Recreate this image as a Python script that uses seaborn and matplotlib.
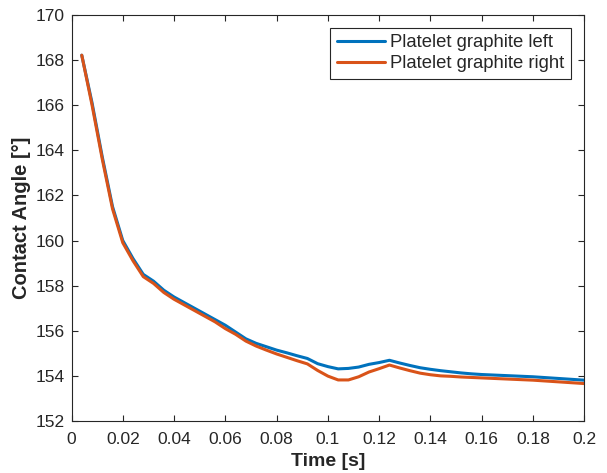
import numpy as np
import pandas as pd
import matplotlib
matplotlib.use("Agg")
import matplotlib.pyplot as plt
import seaborn as sns

time_s = [0.004, 0.008, 0.012, 0.016, 0.020, 0.024, 0.028, 0.032, 0.036, 0.040,
          0.044, 0.048, 0.052, 0.056, 0.060, 0.064, 0.068, 0.072, 0.076, 0.080,
          0.084, 0.088, 0.092, 0.096, 0.100, 0.104, 0.108, 0.112, 0.116, 0.120,
          0.124, 0.128, 0.132, 0.136, 0.140, 0.144, 0.148, 0.152, 0.156, 0.160,
          0.164, 0.168, 0.172, 0.176, 0.180, 0.184, 0.188, 0.192, 0.196, 0.200]

left_angle = [168.2, 166.1, 163.7, 161.5, 160.0, 159.2, 158.5, 158.2, 157.8, 157.5,
              157.25, 157.0, 156.75, 156.5, 156.25, 155.95, 155.65, 155.45, 155.3, 155.15,
              155.03, 154.9, 154.78, 154.55, 154.42, 154.32, 154.34, 154.4, 154.52, 154.6,
              154.7, 154.58, 154.47, 154.37, 154.3, 154.24, 154.19, 154.14, 154.1, 154.07,
              154.05, 154.03, 154.01, 153.99, 153.97, 153.94, 153.91, 153.88, 153.85, 153.82]

right_angle = [168.2, 166.0, 163.6, 161.4, 159.9, 159.1, 158.4, 158.1, 157.7, 157.4,
               157.15, 156.9, 156.65, 156.4, 156.1, 155.85, 155.55, 155.33, 155.15, 154.98,
               154.83, 154.68, 154.54, 154.25, 154.0, 153.83, 153.83, 153.97, 154.18, 154.33,
               154.49, 154.36, 154.24, 154.13, 154.06, 154.01, 153.99, 153.96, 153.94, 153.92,
               153.9, 153.88, 153.86, 153.84, 153.82, 153.79, 153.76, 153.73, 153.70, 153.67]

series_names = ["Platelet graphite left", "Platelet graphite right"]
series_colors = ["#0072BD", "#D95319"]
x_ticks = [0, 0.02, 0.04, 0.06, 0.08, 0.1, 0.12, 0.14, 0.16, 0.18, 0.2]
x_tick_labels = ["0", "0.02", "0.04", "0.06", "0.08", "0.1", "0.12", "0.14", "0.16", "0.18", "0.2"]
y_ticks = [152, 154, 156, 158, 160, 162, 164, 166, 168, 170]

df = pd.concat([
    pd.DataFrame({"Time": time_s, "Angle": left_angle, "Series": series_names[0]}),
    pd.DataFrame({"Time": time_s, "Angle": right_angle, "Series": series_names[1]}),
])

sns.set_style("white")
plt.rcParams["font.family"] = ["Liberation Sans", "DejaVu Sans"]

fig = plt.figure(figsize=(6.07, 4.73), dpi=100)
ax = fig.add_axes([0.1178, 0.1093, 0.9626 - 0.1178, 0.9693 - 0.1093])

sns.lineplot(data=df, x="Time", y="Angle", hue="Series", palette=series_colors,
             linewidth=2.2, ax=ax, legend=True)

ax.set_xlim(0, 0.2)
ax.set_ylim(152, 170)
ax.set_xticks(x_ticks)
ax.set_xticklabels(x_tick_labels)
ax.set_yticks(y_ticks)

axis_color = "#262626"
for s in ax.spines.values():
    s.set_visible(True)
    s.set_color(axis_color)
    s.set_linewidth(0.8)
ax.tick_params(direction="in", length=4, width=0.8, colors=axis_color,
               labelsize=12.5, top=True, right=True, bottom=True, left=True, pad=5)
ax.tick_params(axis="x", pad=8)
for lbl in ax.get_xticklabels() + ax.get_yticklabels():
    lbl.set_color("#262626")

ax.set_xlabel("Time [s]", fontsize=14, fontweight="bold", color="#262626", labelpad=4)
ax.set_ylabel("Contact Angle [°]", fontsize=14.5, fontweight="bold", color="#262626", labelpad=3)

handles, labels = ax.get_legend_handles_labels()
leg = ax.legend(handles, labels, loc="upper right", bbox_to_anchor=(0.974, 0.967),
                fontsize=13.3, frameon=True, fancybox=False, edgecolor=axis_color,
                framealpha=1, handlelength=2.6, handletextpad=0.3,
                borderpad=0.35, labelspacing=0.2, borderaxespad=0)
leg.get_frame().set_linewidth(0.8)
for line in leg.get_lines():
    line.set_linewidth(2.2)

fig.savefig("out.png", dpi=100)
